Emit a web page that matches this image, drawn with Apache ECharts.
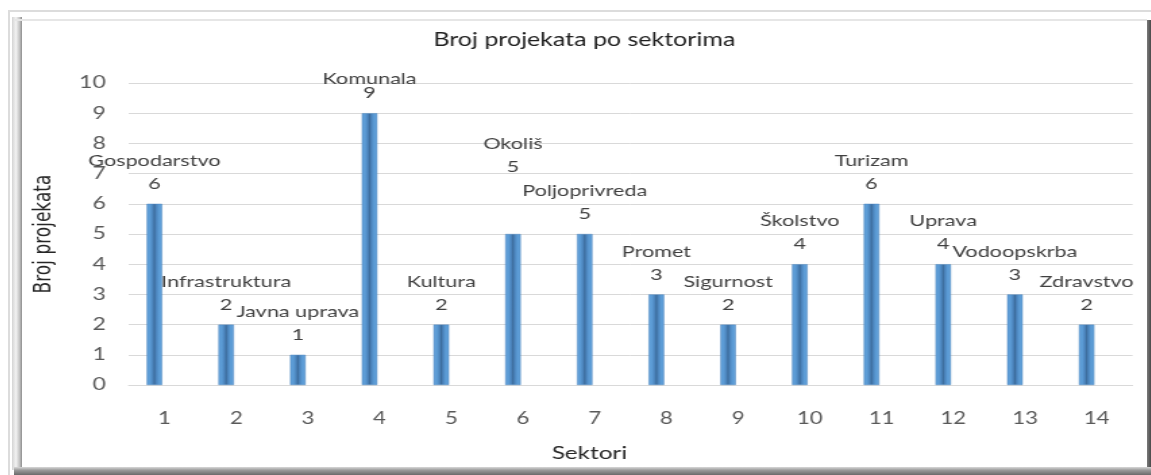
<!DOCTYPE html>
<html>
<head>
<meta charset="utf-8">
<title>Broj projekata po sektorima</title>
<script src="https://cdn.jsdelivr.net/npm/echarts@6/dist/echarts.min.js"></script>
<style>
  html, body { margin: 0; padding: 0; background: #fff; width: 1151px; height: 475px; overflow: hidden; position: relative; }
  .rule-top { position: absolute; left: 8px; top: 10px; right: 0; height: 2px; background: #dcdcdc; }
  .rule-left { position: absolute; left: 8px; top: 10px; width: 2px; bottom: 0; background: #dcdcdc; }
  .bevel-left { position: absolute; left: 12px; top: 17px; width: 10px; bottom: 5px;
    background: linear-gradient(to right, #d4d4d4, #f2f2f2 40%, #c4c4c4 75%, #8f8f8f); }
  .frame-top { position: absolute; left: 14px; top: 19px; right: 4px; height: 2px; background: #e6e6e6; }
  .frame-right { position: absolute; right: 0; top: 20px; width: 4px; bottom: 0;
    background: linear-gradient(to right, #7a7a7a, #4a4a4a); }
  .frame-bottom { position: absolute; left: 14px; right: 0; top: 467px; bottom: 0;
    background: linear-gradient(to bottom, #d8d8d8, #9a9a9a 40%, #6a6a6a); }
  #chart { position: absolute; left: 22px; top: 21px; height: 446px; transform-origin: 0 0; }
</style>
</head>
<body>
<div class="rule-top"></div>
<div class="rule-left"></div>
<div class="bevel-left"></div>
<div class="frame-top"></div>
<div class="frame-right"></div>
<div class="frame-bottom"></div>
<div id="chart"></div>
<script>
// Sector numbers on the category axis
const sectorNumbers = ['1', '2', '3', '4', '5', '6', '7', '8', '9', '10', '11', '12', '13', '14'];
// Sector names shown above each bar
const sectorNames = ['Gospodarstvo', 'Infrastruktura', 'Javna uprava', 'Komunala', 'Kultura', 'Okoliš',
  'Poljoprivreda', 'Promet', 'Sigurnost', 'Školstvo', 'Turizam', 'Uprava', 'Vodoopskrba', 'Zdravstvo'];
// Number of projects per sector
const projectCounts = [6, 2, 1, 9, 2, 5, 5, 3, 2, 4, 6, 4, 3, 2];
// Second (empty) series of the workbook, it only reserves its slot beside each bar
const secondSeries = [null, null, null, null, null, null, null, null, null, null, null, null, null, null];
// Value axis range
const yMin = 0, yMax = 10, yStep = 1;

// The chart is laid out narrow and widened with a CSS scale, giving the broad lettering.
const STRETCH = 1.35;
const FRAME_W = 1125;
const el = document.getElementById('chart');
el.style.width = (FRAME_W / STRETCH) + 'px';
el.style.transform = 'scaleX(' + STRETCH + ')';

const sx = px => px / STRETCH;          // horizontal pixel (final) -> layout pixel
const FONT = 'Lato, "Open Sans", sans-serif';

const barFill = new echarts.graphic.LinearGradient(0, 0, 1, 0, [
  { offset: 0, color: '#62a1da' },
  { offset: 0.22, color: '#5b9bd5' },
  { offset: 0.4, color: '#4a82ba' },
  { offset: 0.5, color: '#3c6c9c' },
  { offset: 0.6, color: '#4a82ba' },
  { offset: 0.78, color: '#5b9bd5' },
  { offset: 1, color: '#62a1da' }
]);

const barData = projectCounts.map((v, i) => {
  if (sectorNames[i] === 'Komunala') {
    return { value: v, label: { distance: 13, rich: { n: { lineHeight: 14 }, v: { lineHeight: 14 } } } };
  }
  if (sectorNames[i] === 'Okoliš') {
    return { value: v, label: { offset: [0, -47] } };
  }
  return v;
});

const chart = echarts.init(el, null, { renderer: 'canvas' });
chart.setOption({
  animation: false,
  textStyle: { fontFamily: FONT },
  title: {
    text: 'Broj projekata po sektorima',
    left: 'center',
    top: 5,
    textStyle: { fontFamily: FONT, fontSize: 18.5, fontWeight: 'normal', color: '#1f1f1f' }
  },
  grid: { left: sx(101), right: sx(14), top: 62, bottom: 77.5, containLabel: false },
  xAxis: {
    type: 'category',
    data: sectorNumbers,
    axisTick: { show: false },
    axisLine: { lineStyle: { color: '#d9d9d9', width: 1 } },
    axisLabel: { fontFamily: FONT, fontSize: 16.5, color: '#595959', margin: 25 },
    name: 'Sektori',
    nameLocation: 'middle',
    nameGap: 59,
    nameTextStyle: { fontFamily: FONT, fontSize: 18, color: '#262626', padding: [0, 61, 0, 0] }
  },
  yAxis: {
    type: 'value',
    min: yMin,
    max: yMax,
    interval: yStep,
    axisLine: { show: false },
    axisTick: { show: false },
    splitLine: { lineStyle: { color: '#d9d9d9', width: 1 } },
    axisLabel: { fontFamily: FONT, fontSize: 17, color: '#595959', margin: 17 },
    name: 'Broj projekata',
    nameLocation: 'middle',
    nameGap: 54,
    nameTextStyle: { fontFamily: '"DejaVu Sans", sans-serif', fontSize: 17, color: '#262626' }
  },
  series: [
    {
      name: 'Broj projekata',
      type: 'bar',
      data: barData,
      barWidth: sx(15.5),
      barGap: '30%',
      itemStyle: { color: barFill, borderColor: '#4f86bf', borderWidth: 0.5 },
      label: {
        show: true,
        position: 'top',
        distance: 8.5,
        formatter: p => '{n|' + sectorNames[p.dataIndex] + '}\n{v|' + p.value + '}',
        rich: {
          n: { fontFamily: FONT, fontSize: 16, color: '#404040', lineHeight: 23, align: 'center' },
          v: { fontFamily: FONT, fontSize: 16, color: '#404040', lineHeight: 23, align: 'center' }
        }
      }
    },
    {
      name: 'Serija 2',
      type: 'bar',
      data: secondSeries,
      barWidth: sx(15.5),
      itemStyle: { color: '#ed7d31' }
    }
  ]
});
</script>
</body>
</html>
